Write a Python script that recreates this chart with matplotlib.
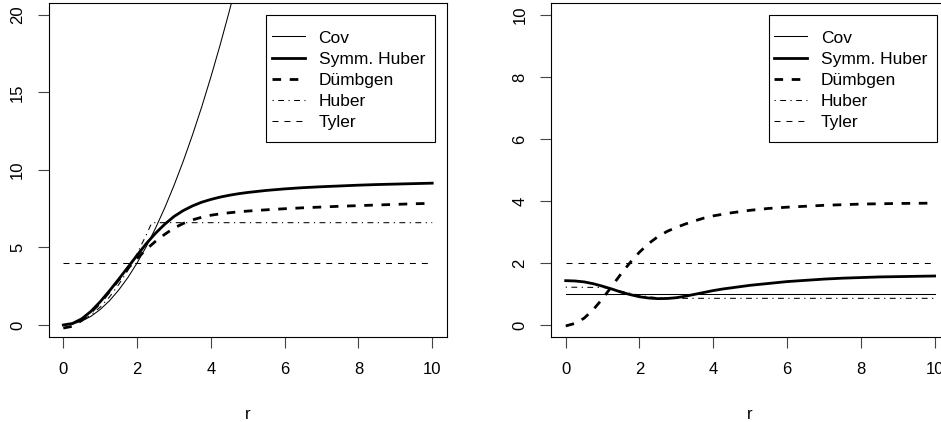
import numpy as np
import matplotlib.pyplot as plt
from matplotlib.patches import Rectangle

plt.rcParams['font.family'] = ['Liberation Sans', 'DejaVu Sans']
plt.rcParams['lines.scale_dashes'] = False

labels = ['Cov', 'Symm. Huber', 'D\u00fcmbgen', 'Huber', 'Tyler']

# values
r_cov = [0, 0.25, 0.5, 0.75, 1, 1.25, 1.5, 1.75, 2, 2.25, 2.5, 2.75, 3, 3.25, 3.5,
         3.75, 4, 4.25, 4.5, 4.75]
cov_left = [0, 0.06, 0.25, 0.56, 1, 1.56, 2.25, 3.06, 4, 5.06, 6.25, 7.56, 9, 10.56,
            12.25, 14.06, 16, 18.06, 20.25, 22.56]

r_grid = [0, 0.25, 0.5, 0.75, 1, 1.25, 1.5, 1.75, 2, 2.25, 2.5, 2.75, 3, 3.25, 3.5,
          3.75, 4, 4.25, 4.5, 4.75, 5, 5.5, 6, 6.5, 7, 7.5, 8, 8.5, 9, 9.5, 10]

# left panel
symm_left = [0.0, 0.1, 0.4, 0.88, 1.5, 2.2, 2.95, 3.72, 4.5, 5.25, 5.92, 6.5, 7.0,
             7.38, 7.68, 7.92, 8.1, 8.25, 8.37, 8.47, 8.55, 8.68, 8.78, 8.86, 8.92,
             8.97, 9.02, 9.06, 9.09, 9.12, 9.15]
dumb_left = [-0.2, -0.08, 0.3, 0.82, 1.42, 2.15, 2.9, 3.65, 4.3, 4.88, 5.4, 5.85,
             6.25, 6.55, 6.78, 6.95, 7.08, 7.17, 7.24, 7.3, 7.35, 7.43, 7.5, 7.56,
             7.61, 7.66, 7.7, 7.74, 7.78, 7.82, 7.85]
r_hub = [0, 0.25, 0.5, 0.75, 1, 1.25, 1.5, 1.75, 2, 2.25, 2.4, 10]
huber_left = [0, 0.07, 0.29, 0.65, 1.15, 1.8, 2.6, 3.52, 4.6, 5.82, 6.6, 6.6]
tyler_left = 4.0

# right panel
symm_right = [1.43, 1.42, 1.39, 1.33, 1.25, 1.16, 1.06, 0.98, 0.91, 0.87, 0.85,
              0.855, 0.88, 0.93, 0.99, 1.05, 1.11, 1.16, 1.2, 1.24, 1.28, 1.34, 1.4,
              1.44, 1.48, 1.51, 1.53, 1.55, 1.56, 1.57, 1.58]
dumb_right = [-0.03, 0.05, 0.22, 0.5, 0.85, 1.25, 1.65, 2.02, 2.35, 2.63, 2.85, 3.02,
              3.15, 3.26, 3.36, 3.45, 3.52, 3.57, 3.62, 3.66, 3.7, 3.76, 3.8, 3.83,
              3.86, 3.88, 3.9, 3.91, 3.92, 3.925, 3.93]
r_hub_right = [0, 1, 1.25, 1.5, 1.75, 2, 2.25, 2.5, 2.75, 3, 10]
huber_right = [1.22, 1.21, 1.17, 1.09, 1.02, 0.96, 0.91, 0.88, 0.865, 0.86, 0.86]
cov_right = 1.0
tyler_right = 2.0

thin = 0.75
thick = 2.0
styles = {
    'Cov': dict(color='black', lw=thin),
    'Symm. Huber': dict(color='black', lw=thick),
    'D\u00fcmbgen': dict(color='black', lw=thick, dashes=(6.2, 6.2)),
    'Huber': dict(color='black', lw=thin, dashes=(0.9, 3.2, 4.2, 3.2)),
    'Tyler': dict(color='black', lw=thin, dashes=(4.3, 4.3)),
}

fig = plt.figure(figsize=(9.41, 4.22), dpi=100)
ax1 = fig.add_axes([0.0516, 0.2005, 0.4234, 0.7934])
ax2 = fig.add_axes([0.5855, 0.2005, 0.4234, 0.7934])


def style_axes(ax, ymax, yticks):
    ax.set_xlim(-0.4, 10.4)
    ax.set_ylim(-0.04 * ymax, 1.04 * ymax)
    ax.set_xticks([0, 2, 4, 6, 8, 10])
    ax.set_yticks(yticks)
    ax.set_yticklabels([str(t) for t in yticks], rotation=90, va='center')
    ax.tick_params(direction='out', length=8, width=0.8, labelsize=12, color='#444444')
    ax.tick_params(axis='x', pad=10)
    ax.tick_params(axis='y', pad=9)
    for s in ax.spines.values():
        s.set_linewidth(0.8)
    ax.set_xlabel('r', fontsize=12, labelpad=21)
    # legend box drawn by hand, R-style
    ax.add_patch(Rectangle((0.547, 0.584), 0.423, 0.379, transform=ax.transAxes,
                           fill=True, facecolor='white', edgecolor='black', lw=0.8,
                           zorder=4))
    leg = ax.legend(loc='upper left', bbox_to_anchor=(0.560, 0.917), borderaxespad=0,
                    frameon=False, fontsize=12.5, handlelength=1.9,
                    handletextpad=0.8, labelspacing=0.35, borderpad=0)
    leg.set_zorder(5)


r10 = [0, 10]
ax1.plot(r_cov, cov_left, label=labels[0], **styles['Cov'])
ax1.plot(r_grid, symm_left, label=labels[1], **styles['Symm. Huber'])
ax1.plot(r_grid, dumb_left, label=labels[2], **styles['D\u00fcmbgen'])
ax1.plot(r_hub, huber_left, label=labels[3], **styles['Huber'])
ax1.plot(r10, [tyler_left] * 2, label=labels[4], **styles['Tyler'])
style_axes(ax1, 20, [0, 5, 10, 15, 20])

ax2.plot(r10, [cov_right] * 2, label=labels[0], **styles['Cov'])
ax2.plot(r_grid, symm_right, label=labels[1], **styles['Symm. Huber'])
ax2.plot(r_grid, dumb_right, label=labels[2], **styles['D\u00fcmbgen'])
ax2.plot(r_hub_right, huber_right, label=labels[3], **styles['Huber'])
ax2.plot(r10, [tyler_right] * 2, label=labels[4], **styles['Tyler'])
style_axes(ax2, 10, [0, 2, 4, 6, 8, 10])

plt.savefig('out.png', dpi=100)
